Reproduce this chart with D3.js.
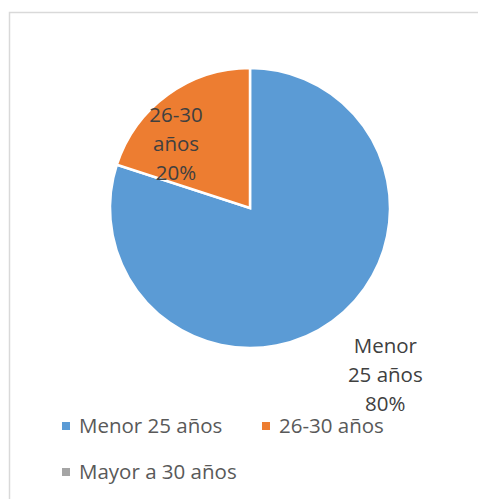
<!DOCTYPE html>
<html>
<head>
<meta charset="utf-8">
<script src="https://cdn.jsdelivr.net/npm/d3@7"></script>
<style>
  body { margin: 0; background: #fff; }
  svg text { font-family: "Open Sans", Lato, sans-serif; }
</style>
</head>
<body>
<div id="chart"></div>
<script>
var categories = ["Menor 25 años", "26-30 años", "Mayor a 30 años"];
var labelLines = [["Menor", "25 años"], ["26-30", "años"], ["Mayor a", "30 años"]];
var values = [80, 20, 0];
var colors = ["#5B9BD5", "#ED7D31", "#A5A5A5"];

var width = 478, height = 499;
var cx = 250, cy = 208, radius = 140;

// label placement: distance from centre and angle nudge (degrees) per slice
var labelPlace = [{r: 215, da: -3}, {r: 98, da: -13}, {r: 0, da: 0}];

var svg = d3.select("#chart").append("svg")
    .attr("width", width)
    .attr("height", height);

// chart frame
svg.append("rect")
    .attr("x", 9.5)
    .attr("y", 12.5)
    .attr("width", 475)
    .attr("height", 500)
    .attr("fill", "none")
    .attr("stroke", "#d9d9d9")
    .attr("stroke-width", 1.5);

var data = categories.map(function (c, i) {
    return {name: c, value: values[i], color: colors[i], lines: labelLines[i], idx: i};
});

var pie = d3.pie().sort(null).value(function (d) { return d.value; });
var arc = d3.arc().innerRadius(0).outerRadius(radius);

var g = svg.append("g").attr("transform", "translate(" + cx + "," + cy + ")");

var arcs = pie(data);

g.selectAll("path")
    .data(arcs.filter(function (d) { return d.data.value > 0; }))
    .enter().append("path")
    .attr("d", arc)
    .attr("fill", function (d) { return d.data.color; })
    .attr("stroke", "#fff")
    .attr("stroke-width", 2.5)
    .attr("stroke-linejoin", "miter");

var total = d3.sum(values);
var fmt = d3.format(".0%");

// data labels
var lbl = g.selectAll(".lbl")
    .data(arcs.filter(function (d) { return d.data.value > 0; }))
    .enter().append("text")
    .attr("class", "lbl")
    .attr("text-anchor", "middle")
    .attr("fill", "#404040")
    .style("font-size", "20.5px")
    .attr("transform", function (d) {
        var p = labelPlace[d.data.idx];
        var a = (d.startAngle + d.endAngle) / 2 + p.da * Math.PI / 180;
        return "translate(" + (Math.sin(a) * p.r) + "," + (-Math.cos(a) * p.r) + ")";
    });

lbl.each(function (d) {
    var t = d3.select(this);
    var lines = d.data.lines.concat([fmt(d.data.value / total)]);
    lines.forEach(function (s, i) {
        t.append("tspan")
            .attr("x", 0)
            .attr("y", (i - 1) * 29 + 7)
            .text(s);
    });
});

// legend
var legendPos = [[62, 426], [262, 426], [62, 472]];
var leg = svg.selectAll(".legend")
    .data(data)
    .enter().append("g")
    .attr("class", "legend")
    .attr("transform", function (d, i) {
        return "translate(" + legendPos[i][0] + "," + legendPos[i][1] + ")";
    });

leg.append("rect")
    .attr("x", 0)
    .attr("y", -4)
    .attr("width", 8)
    .attr("height", 8)
    .attr("fill", function (d) { return d.color; });

leg.append("text")
    .attr("x", 17)
    .attr("y", 6.5)
    .attr("fill", "#595959")
    .style("font-size", "20.5px")
    .text(function (d) { return d.name; });
</script>
</body>
</html>
